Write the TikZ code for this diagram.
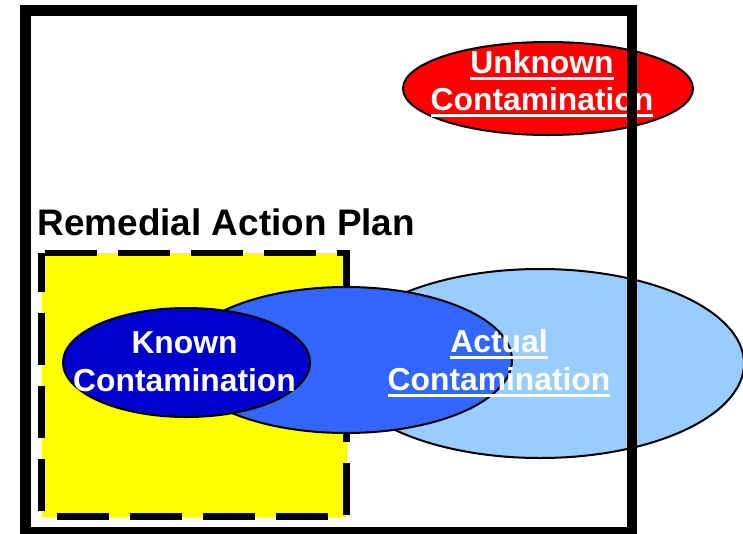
\documentclass[tikz,border=0pt]{standalone}
\usepackage{fontspec}
\setmainfont{Liberation Sans}
\usetikzlibrary{shapes.geometric}
\definecolor{lightblu}{HTML}{99CCFF}
\definecolor{midblu}{HTML}{3366FF}
\definecolor{darkblu}{HTML}{0000CC}
\definecolor{redfill}{HTML}{FF0000}
\definecolor{yellowfill}{HTML}{FFFF00}
\newcommand\myul[1]{\sbox0{#1}\rlap{\usebox0}\raisebox{-7pt}{\rule{\wd0}{3.2pt}}}
\tikzset{
  blob/.style={ellipse, draw=black, line width=2pt, inner sep=0pt, outer sep=0pt},
  lbl/.style={anchor=base, inner sep=0pt, text=white, font=\fontsize{31.8pt}{38pt}\selectfont\bfseries},
  planbox/.style={fill=yellowfill, draw=black, line width=6.5pt, dash pattern=on 52pt off 21pt, dash phase=13.5pt},
  frame/.style={draw=black, line width=10.5pt}
}
\begin{document}
\begin{tikzpicture}[x=1pt,y=-1pt]
\useasboundingbox (0,0) rectangle (743,533);
\fill[white] (0,0) rectangle (743,533);
% remedial action plan box
\path[planbox] (41.5,253) rectangle (346.5,516.5);
% ellipses
\node[blob, fill=lightblu, minimum width=408pt, minimum height=189pt] (actualouter) at (540,363.5) {};
\node[blob, fill=midblu, minimum width=332pt, minimum height=146pt] (actualinner) at (346,360) {};
\node[blob, fill=darkblu, minimum width=247pt, minimum height=109pt] (known) at (186.5,362.5) {};
\node[blob, fill=redfill, minimum width=290pt, minimum height=93pt] (unknown) at (548,88.5) {};
% labels
\node[lbl] (unk1) at (542,73) {\myul{Unknown}};
\node[lbl] (unk2) at (542,110) {\myul{Contamination}};
\node[lbl] (act1) at (499,352) {\myul{Actual}};
\node[lbl] (act2) at (499,390) {\myul{Contamination}};
\node[lbl] (kn1) at (184.5,353) {Known};
\node[lbl] (kn2) at (184.5,391) {Contamination};
\node[anchor=base west, inner sep=0pt, font=\fontsize{36.9pt}{44pt}\selectfont\bfseries] (rap) at (37.5,235) {Remedial Action Plan};
% outer frame
\path[frame] (25.5,10.5) rectangle (632,532);
\end{tikzpicture}
\end{document}
